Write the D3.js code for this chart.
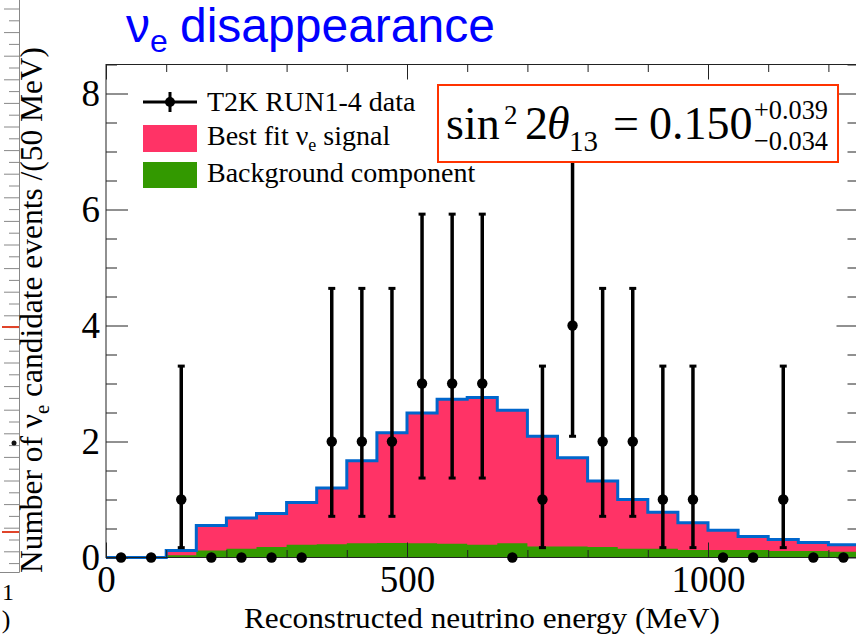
<!DOCTYPE html>
<html>
<head>
<meta charset="utf-8">
<script src="https://cdn.jsdelivr.net/npm/d3@7"></script>
<style>
  html, body { margin: 0; padding: 0; background: #fff; }
  svg { display: block; }
</style>
</head>
<body>
<svg id="chart" width="856" height="637"></svg>
<script>
// ---- data ----
const binLow = [0,50,100,150,200,250,300,350,400,450,500,550,600,650,700,750,800,850,900,950,1000,1050,1100,1150,1200];
const binWidth = 50;
const totalExpected = [0,0,0.12,0.55,0.68,0.76,0.95,1.20,1.67,2.15,2.49,2.73,2.76,2.54,2.09,1.72,1.32,1.00,0.78,0.60,0.47,0.36,0.31,0.26,0.22];
const backgroundExpected = [0,0,0.04,0.12,0.15,0.18,0.22,0.23,0.245,0.25,0.245,0.235,0.22,0.245,0.19,0.19,0.18,0.15,0.15,0.13,0.13,0.13,0.11,0.11,0.10];
const dataCounts = [0,0,1,0,0,0,0,2,2,2,3,3,3,0,1,4,2,2,1,1,0,0,1,0,0];
const errLow  = [0,0,0.83,0,0,0,0,1.29,1.29,1.29,1.63,1.63,1.63,0,0.83,1.91,1.29,1.29,0.83,0.83,0,0,0.83,0,0];
const errHigh = [0,0,2.30,0,0,0,0,2.64,2.64,2.64,2.92,2.92,2.92,0,2.30,3.16,2.64,2.64,2.30,2.30,0,0,2.30,0,0];
const xTickMajor = [0,500,1000];
const xTickMinor = [100,200,300,400,600,700,800,900,1100,1200];
const yTickMajor = [0,2,4,6,8];
const yTickMinor = [0.5,1,1.5,2.5,3,3.5,4.5,5,5.5,6.5,7,7.5,8.5];
const legendLabels = ["T2K RUN1-4 data", "Best fit ν", "Background component"];

// ---- layout ----
const svg = d3.select("#chart");
const X0 = 106, X1 = 858.5, Y0 = 557.5, Y1 = 64.5;
const x = d3.scaleLinear().domain([0,1250]).range([X0, X1]);
const y = d3.scaleLinear().domain([0,8.5]).range([Y0, Y1]);

const pink = "#ff3366", green = "#339900", blue = "#0066cc";
const serif = "'Liberation Serif','Times New Roman',Times,serif";
const sans = "'Liberation Sans',Arial,Helvetica,sans-serif";

// ---- left remnant of neighbouring plot ----
const rem = svg.append("g").attr("stroke", "#888").attr("stroke-width", 1);
rem.append("line").attr("x1", 19.5).attr("x2", 19.5).attr("y1", 0).attr("y2", 572.5);
rem.append("line").attr("x1", 0).attr("x2", 19.5).attr("y1", 572.5).attr("y2", 572.5);
rem.selectAll("line.t").data(d3.range(0, 48)).join("line").attr("class","t")
  .attr("x1", (d) => d % 2 ? 9 : 4).attr("x2", 19.5)
  .attr("y1", (d) => 9 + d * 11.8).attr("y2", (d) => 9 + d * 11.8);
svg.append("line").attr("x1", 2).attr("x2", 19).attr("y1", 327).attr("y2", 327).attr("stroke", "#e0442a").attr("stroke-width", 2);
svg.append("line").attr("x1", 2).attr("x2", 19).attr("y1", 532).attr("y2", 532).attr("stroke", "#e0442a").attr("stroke-width", 2);
svg.append("circle").attr("cx", 14).attr("cy", 443).attr("r", 2.5).attr("fill", "#111");
svg.append("text").attr("x", 8).attr("y", 600).attr("font-family", serif).attr("font-size", 24).attr("text-anchor","middle").text("1");
svg.append("text").attr("x", 6).attr("y", 628).attr("font-family", serif).attr("font-size", 26).attr("text-anchor","middle").text(")");

// ---- histograms ----
const bins = binLow.map((lo, i) => ({ lo, hi: lo + binWidth, tot: totalExpected[i], bg: backgroundExpected[i] }));
function stepPoints(key) {
  const pts = [[bins[0].lo, 0]];
  bins.forEach(b => { pts.push([b.lo, b[key]]); pts.push([b.hi, b[key]]); });
  pts.push([bins[bins.length-1].hi, 0]);
  return pts;
}
const line = d3.line().x(d => x(d[0])).y(d => y(d[1]));
const area = d3.area().x(d => x(d[0])).y0(y(0)).y1(d => y(d[1]));
const plot = svg.append("g");
plot.append("path").attr("d", area(stepPoints("tot"))).attr("fill", pink);
plot.append("path").attr("d", area(stepPoints("bg"))).attr("fill", green);
const totPts = stepPoints("tot").slice(1, -1);
plot.append("path").attr("d", line(totPts)).attr("fill", "none").attr("stroke", blue).attr("stroke-width", 3).attr("stroke-linejoin", "miter");

// ---- axes / frame ----
const axCol = "#222";
function styleAxis(g) {
  g.select(".domain").remove();
  g.selectAll("line").attr("stroke", axCol);
  g.selectAll("text").attr("font-family", serif).attr("font-size", 37).attr("fill", "#000");
}
svg.append("g").attr("transform", `translate(${X0},0)`)
  .call(d3.axisLeft(y).tickValues(yTickMajor).tickSize(-22).tickPadding(6).tickFormat(d3.format("d"))).call(styleAxis);
svg.append("g").attr("transform", `translate(${X0},0)`)
  .call(d3.axisLeft(y).tickValues(yTickMinor).tickSize(-11).tickFormat("")).call(styleAxis);
svg.append("g").attr("transform", `translate(${X1},0)`)
  .call(d3.axisRight(y).tickValues(yTickMajor).tickSize(-22).tickFormat("")).call(styleAxis);
svg.append("g").attr("transform", `translate(${X1},0)`)
  .call(d3.axisRight(y).tickValues(yTickMinor).tickSize(-11).tickFormat("")).call(styleAxis);
svg.append("g").attr("transform", `translate(0,${Y0})`)
  .call(d3.axisBottom(x).tickValues(xTickMajor).tickSize(-15).tickPadding(8).tickFormat(d3.format("d"))).call(styleAxis);
svg.append("g").attr("transform", `translate(0,${Y0})`)
  .call(d3.axisBottom(x).tickValues(xTickMinor).tickSize(-7.5).tickFormat("")).call(styleAxis);
svg.append("g").attr("transform", `translate(0,${Y1})`)
  .call(d3.axisTop(x).tickValues(xTickMajor).tickSize(-15).tickFormat("")).call(styleAxis);
svg.append("g").attr("transform", `translate(0,${Y1})`)
  .call(d3.axisTop(x).tickValues(xTickMinor).tickSize(-7.5).tickFormat("")).call(styleAxis);
svg.append("rect").attr("x", X0).attr("y", Y1).attr("width", X1 - X0).attr("height", Y0 - Y1)
  .attr("fill", "none").attr("stroke", axCol).attr("stroke-width", 1);

// ---- data points ----
const pts = binLow.map((lo, i) => ({ cx: lo + binWidth/2, n: dataCounts[i], lo: errLow[i], hi: errHigh[i] }));
const dg = svg.append("g");
const withErr = pts.filter(p => p.n > 0);
dg.selectAll("line.err").data(withErr).join("line").attr("class","err")
  .attr("x1", d => x(d.cx)).attr("x2", d => x(d.cx))
  .attr("y1", d => y(d.n - d.lo)).attr("y2", d => y(d.n + d.hi))
  .attr("stroke", "#000").attr("stroke-width", 3.5);
["lo","hi"].forEach(k => {
  dg.selectAll("line.cap" + k).data(withErr).join("line").attr("class","cap" + k)
    .attr("x1", d => x(d.cx) - 3.5).attr("x2", d => x(d.cx) + 3.5)
    .attr("y1", d => y(k === "lo" ? d.n - d.lo : d.n + d.hi))
    .attr("y2", d => y(k === "lo" ? d.n - d.lo : d.n + d.hi))
    .attr("stroke", "#000").attr("stroke-width", 3);
});
dg.selectAll("circle").data(pts).join("circle")
  .attr("cx", d => x(d.cx)).attr("cy", d => y(d.n)).attr("r", 5.2).attr("fill", "#000");

// ---- axis titles ----
const yt = svg.append("text").attr("transform", "translate(42,310) rotate(-90)")
  .attr("text-anchor", "middle").attr("font-family", serif).attr("font-size", 32)
  .attr("textLength", 526).attr("lengthAdjust", "spacingAndGlyphs");
yt.append("tspan").text("Number of  ν");
yt.append("tspan").attr("font-size", 21).attr("dy", 7).text("e");
yt.append("tspan").attr("dy", -7).text(" candidate events /(50 MeV)");

svg.append("text").attr("x", 482).attr("y", 628).attr("text-anchor", "middle")
  .attr("font-family", serif).attr("font-size", 30)
  .attr("textLength", 476).attr("lengthAdjust", "spacingAndGlyphs")
  .text("Reconstructed neutrino energy (MeV)");

// ---- title ----
const tt = svg.append("text").attr("x", 126).attr("y", 42).attr("font-family", sans).attr("font-size", 48).attr("fill", "#0000ff");
tt.append("tspan").text("ν");
tt.append("tspan").attr("font-size", 32).attr("dy", 10).text("e");
tt.append("tspan").attr("x", 180).attr("dy", -10).text("disappearance");

// ---- legend ----
const lg = svg.append("g");
lg.append("line").attr("x1", 143).attr("x2", 197).attr("y1", 102).attr("y2", 102).attr("stroke", "#000").attr("stroke-width", 3);
lg.append("line").attr("x1", 170).attr("x2", 170).attr("y1", 92).attr("y2", 112).attr("stroke", "#000").attr("stroke-width", 3);
lg.append("circle").attr("cx", 170).attr("cy", 102).attr("r", 5).attr("fill", "#000");
lg.append("rect").attr("x", 143).attr("y", 125).attr("width", 54).attr("height", 27).attr("fill", pink);
lg.append("rect").attr("x", 143).attr("y", 162).attr("width", 54).attr("height", 26).attr("fill", green);
const lt = { "font-family": serif, "font-size": 28 };
const l1 = lg.append("text").attr("x", 207).attr("y", 111).text(legendLabels[0]);
const l2 = lg.append("text").attr("x", 207).attr("y", 145);
l2.append("tspan").text(legendLabels[1]);
l2.append("tspan").attr("font-size", 18).attr("dy", 6).text("e");
l2.append("tspan").attr("dy", -6).text(" signal");
const l3 = lg.append("text").attr("x", 207).attr("y", 182).text(legendLabels[2]);
[l1,l2,l3].forEach(t => t.attr("font-family", lt["font-family"]).attr("font-size", lt["font-size"]).attr("fill", "#000"));

// ---- formula box ----
svg.append("rect").attr("x", 438).attr("y", 85).attr("width", 400).attr("height", 77)
  .attr("fill", "#fff").attr("stroke", "#ff3300").attr("stroke-width", 2);
const fg = svg.append("g").attr("font-family", serif).attr("fill", "#000");
fg.append("text").attr("x", 446).attr("y", 139).attr("font-size", 46).text("sin");
fg.append("text").attr("x", 504).attr("y", 124).attr("font-size", 27).text("2");
fg.append("text").attr("x", 525).attr("y", 139).attr("font-size", 46).text("2");
fg.append("text").attr("x", 547).attr("y", 139).attr("font-size", 46).attr("font-style", "italic").text("θ");
fg.append("text").attr("x", 569).attr("y", 151).attr("font-size", 29).text("13");
fg.append("text").attr("x", 613).attr("y", 139).attr("font-size", 46).text("=");
fg.append("text").attr("x", 649).attr("y", 139).attr("font-size", 46).text("0.150");
fg.append("text").attr("x", 754).attr("y", 119).attr("font-size", 28).attr("textLength", 74).attr("lengthAdjust","spacingAndGlyphs").text("+0.039");
fg.append("text").attr("x", 754).attr("y", 150).attr("font-size", 28).attr("textLength", 74).attr("lengthAdjust","spacingAndGlyphs").text("−0.034");
</script>
</body>
</html>
